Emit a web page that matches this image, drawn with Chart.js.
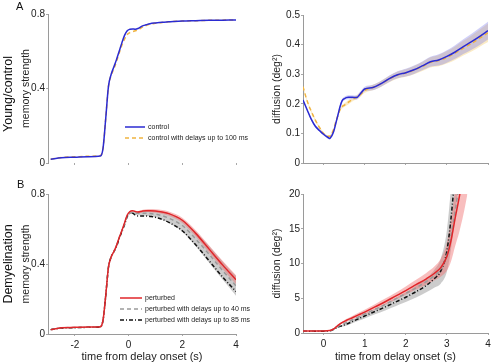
<!DOCTYPE html>
<html>
<head>
<meta charset="utf-8">
<script src="https://cdn.jsdelivr.net/npm/chart.js@4.4.0/dist/chart.umd.min.js"></script>
<style>
body { margin: 0; background: #fff; }
#fig { position: relative; width: 502px; height: 362px; font-family: 'Liberation Sans', Arial, sans-serif; color: #111; }
canvas { position: absolute; }
.lbl { position: absolute; white-space: nowrap; }
.rot { transform: translate(-50%, -50%) rotate(-90deg); }
</style>
</head>
<body>
<div id="fig">
  <canvas id="memA" width="250" height="180" style="left:0;top:0"></canvas>
  <canvas id="difA" width="252" height="180" style="left:250px;top:0"></canvas>
  <canvas id="memB" width="250" height="182" style="left:0;top:180px"></canvas>
  <canvas id="difB" width="252" height="182" style="left:250px;top:180px"></canvas>
  <div class="lbl" style="left:16px;top:0;font-size:11px">A</div>
  <div class="lbl" style="left:17px;top:178px;font-size:11px">B</div>
  <div class="lbl rot" style="left:8px;top:94px;font-size:12.5px">Young/control</div>
  <div class="lbl rot" style="left:8px;top:264px;font-size:12.5px">Demyelination</div>
</div>
<script>
// ---- data ----
// memory strength, time axis (s)
const tMem = [-2.9, -2.5, -2, -1.5, -1.05, -0.95, -0.85, -0.75, -0.65, -0.55, -0.45, -0.35, -0.25, -0.15, -0.05,
              0.05, 0.15, 0.25, 0.35, 0.5, 0.65, 0.8, 1, 1.25, 1.5, 2, 2.5, 3, 3.5, 4];
const controlMem = [0.02, 0.028, 0.031, 0.034, 0.037, 0.08, 0.24, 0.41, 0.475, 0.515, 0.555, 0.6, 0.645, 0.685, 0.71,
                    0.718, 0.72, 0.718, 0.722, 0.735, 0.742, 0.748, 0.752, 0.756, 0.758, 0.762, 0.764, 0.766, 0.767, 0.768];
const controlDelayMem = [0.02, 0.03, 0.033, 0.036, 0.04, 0.08, 0.24, 0.41, 0.47, 0.505, 0.545, 0.59, 0.632, 0.665, 0.69,
                         0.7, 0.705, 0.71, 0.715, 0.728, 0.738, 0.745, 0.75, 0.755, 0.758, 0.762, 0.764, 0.766, 0.767, 0.768];
const perturbedMem = [0.025, 0.036, 0.038, 0.04, 0.042, 0.08, 0.22, 0.38, 0.44, 0.47, 0.505, 0.55, 0.59, 0.635, 0.68,
                      0.7, 0.705, 0.7, 0.697, 0.702, 0.705, 0.705, 0.703, 0.697, 0.688, 0.65, 0.575, 0.485, 0.395, 0.31];
const delay40Mem = [0.025, 0.035, 0.037, 0.039, 0.041, 0.08, 0.22, 0.38, 0.44, 0.47, 0.505, 0.55, 0.59, 0.63, 0.675,
                    0.69, 0.695, 0.69, 0.69, 0.69, 0.69, 0.688, 0.685, 0.676, 0.662, 0.62, 0.543, 0.455, 0.363, 0.275];
const delay85Mem = [0.025, 0.034, 0.036, 0.038, 0.04, 0.08, 0.22, 0.38, 0.44, 0.47, 0.5, 0.545, 0.585, 0.625, 0.67,
                    0.69, 0.69, 0.68, 0.675, 0.675, 0.675, 0.672, 0.667, 0.655, 0.638, 0.59, 0.51, 0.418, 0.326, 0.243];
// half widths of the shaded bands
const perturbedMemBand = [0, 0, 0, 0, 0, 0, 0, 0, 0, 0, 0, 0, 0, 0, 0,
                          0.003, 0.004, 0.005, 0.006, 0.007, 0.008, 0.009, 0.01, 0.011, 0.012, 0.015, 0.018, 0.021, 0.024, 0.026];
const delayMemBand = [0, 0, 0, 0, 0, 0, 0, 0, 0, 0, 0, 0, 0, 0, 0,
                      0.004, 0.006, 0.008, 0.01, 0.012, 0.014, 0.016, 0.018, 0.022, 0.028, 0.035, 0.042, 0.048, 0.052, 0.056];

// diffusion, young/control
const tDifA = [-0.5, -0.4, -0.3, -0.2, -0.1, 0, 0.1, 0.15, 0.2, 0.25, 0.3, 0.35, 0.4, 0.45, 0.5, 0.6, 0.7, 0.8, 0.9, 1,
               1.2, 1.4, 1.6, 1.8, 2, 2.2, 2.4, 2.6, 2.8, 3, 3.2, 3.4, 3.6, 3.8, 4];
const controlDif = [0.213, 0.18, 0.148, 0.124, 0.11, 0.097, 0.087, 0.083, 0.092, 0.108, 0.135, 0.162, 0.19, 0.21, 0.217,
                    0.222, 0.222, 0.221, 0.235, 0.25, 0.255, 0.268, 0.285, 0.298, 0.305, 0.315, 0.328, 0.342, 0.348, 0.36,
                    0.375, 0.393, 0.41, 0.428, 0.447];
const controlDelayDif = [0.258, 0.21, 0.175, 0.145, 0.12, 0.1, 0.09, 0.09, 0.1, 0.115, 0.14, 0.16, 0.18, 0.19, 0.195,
                         0.205, 0.215, 0.222, 0.232, 0.245, 0.255, 0.268, 0.284, 0.297, 0.304, 0.314, 0.326, 0.34, 0.346, 0.357,
                         0.371, 0.388, 0.404, 0.422, 0.44];
const controlDifBand = [0.004, 0.004, 0.004, 0.004, 0.004, 0.004, 0.004, 0.004, 0.004, 0.004, 0.005, 0.005, 0.006, 0.006, 0.006,
                        0.007, 0.007, 0.007, 0.008, 0.008, 0.009, 0.01, 0.011, 0.012, 0.013, 0.014, 0.015, 0.017, 0.019, 0.021,
                        0.023, 0.025, 0.027, 0.029, 0.03];
const controlDelayDifBand = [0.004, 0.004, 0.004, 0.004, 0.004, 0.004, 0.004, 0.004, 0.004, 0.004, 0.005, 0.005, 0.006, 0.006, 0.006,
                             0.007, 0.007, 0.007, 0.008, 0.008, 0.009, 0.01, 0.011, 0.012, 0.013, 0.014, 0.015, 0.017, 0.019, 0.021,
                             0.023, 0.025, 0.027, 0.029, 0.031];

// diffusion, demyelination
const tDifB = [-0.5, -0.25, 0, 0.15, 0.25, 0.35, 0.45, 0.55, 0.7, 0.85, 1, 1.25, 1.5, 1.75, 2, 2.25, 2.5, 2.7, 2.85, 3,
               3.1, 3.2, 3.3, 3.4, 3.5];
const perturbedDif = [0.3, 0.3, 0.3, 0.35, 0.6, 1.1, 1.5, 1.8, 2.2, 2.6, 3.0, 3.75, 4.5, 5.3, 6.1, 6.95, 7.8, 8.6, 9.4, 11.0,
                      13.3, 16.5, 19.5, 23, 27];
const delay40Dif = [0.3, 0.3, 0.3, 0.35, 0.58, 0.95, 1.25, 1.5, 1.9, 2.3, 2.75, 3.4, 4.1, 4.9, 5.7, 6.5, 7.4, 8.3, 9.2, 11.2,
                    14, 17.5, 21.5, 26, 31];
const delay85Dif = [0.25, 0.25, 0.25, 0.3, 0.55, 0.85, 1.05, 1.25, 1.65, 2.05, 2.45, 3.1, 3.75, 4.45, 5.15, 5.95, 6.85, 7.85, 8.9, 11.8,
                    16.5, 23, 30, 38, 46];
const perturbedDifBand = [0, 0, 0, 0, 0.05, 0.1, 0.15, 0.2, 0.25, 0.3, 0.35, 0.4, 0.45, 0.5, 0.6, 0.7, 0.85, 1.0, 1.3, 2.0,
                          3.0, 4.0, 5.0, 6.0, 7.0];
const delayDifBand = [0, 0, 0, 0, 0.05, 0.1, 0.15, 0.2, 0.25, 0.3, 0.35, 0.4, 0.5, 0.6, 0.7, 0.85, 1.0, 1.3, 1.8, 3.0,
                      4.5, 6, 8, 10, 12];

// tick labels
const memTicksX = [-2, 0, 2, 4];
const memTicksY = [0, 0.4, 0.8];
const difTicksX = [0, 1, 2, 3, 4];
const difTicksYA = [0, 0.1, 0.2, 0.3, 0.4, 0.5];
const difTicksYB = [0, 5, 10, 15, 20];

// ---- drawing ----
Chart.defaults.font.family = "'Liberation Sans', Arial, sans-serif";
Chart.defaults.color = '#222';

const innerLegend = {
    id: 'innerLegend',
    afterDraw(chart, args, opts) {
        if (!opts || !opts.items) return;
        const ctx = chart.ctx;
        ctx.save();
        ctx.font = opts.font;
        ctx.textBaseline = 'middle';
        opts.items.forEach((idx, i) => {
            const ds = chart.data.datasets[idx];
            const y = opts.y + i * opts.step;
            ctx.strokeStyle = ds.borderColor;
            ctx.lineWidth = ds.borderWidth;
            ctx.setLineDash(ds.borderDash || []);
            ctx.beginPath();
            ctx.moveTo(opts.x, y);
            ctx.lineTo(opts.x + opts.len, y);
            ctx.stroke();
            ctx.setLineDash([]);
            ctx.fillStyle = '#222';
            ctx.fillText(ds.label, opts.x + opts.len + 3, y);
        });
        ctx.restore();
    }
};
Chart.register(innerLegend);

const pts = (xs, ys) => xs.map((x, i) => ({ x: x, y: ys[i] }));

function line(label, xs, ys, color, dash, width) {
    return {
        label: label, data: pts(xs, ys), borderColor: color, borderWidth: width || 1.5,
        borderDash: dash || [], fill: false, pointRadius: 0, cubicInterpolationMode: 'monotone'
    };
}

function band(xs, ys, half, color) {
    return [
        { data: pts(xs, ys.map((v, i) => v + half[i])), borderWidth: 0, pointRadius: 0, fill: false, cubicInterpolationMode: 'monotone' },
        { data: pts(xs, ys.map((v, i) => v - half[i])), borderWidth: 0, pointRadius: 0, fill: '-1', backgroundColor: color, cubicInterpolationMode: 'monotone' }
    ];
}

function panel(id, datasets, o) {
    const axisColor = '#9a9a9a';
    new Chart(document.getElementById(id), {
        type: 'line',
        data: { datasets: datasets },
        options: {
            responsive: false,
            animation: false,
            devicePixelRatio: 1,
            layout: { padding: { left: o.padL, right: o.padR, top: o.padT, bottom: 0 } },
            plugins: { legend: { display: false }, tooltip: { enabled: false }, innerLegend: o.legend || {} },
            scales: {
                x: {
                    type: 'linear', min: o.xMin, max: o.xMax,
                    border: { display: o.xLine, color: axisColor },
                    grid: { drawOnChartArea: false, tickLength: 2, color: '#a8a8a8' },
                    ticks: { display: o.xLabels, padding: 3, font: { size: 10 } },
                    title: { display: o.xLabels, text: 'time from delay onset (s)', padding: 0, font: { size: 11, lineHeight: 1 } },
                    afterBuildTicks: s => { s.ticks = o.xTicks.map(v => ({ value: v })); },
                    afterFit: s => { s.height = o.xH; s.paddingLeft = 0; s.paddingRight = 0; }
                },
                y: {
                    type: 'linear', min: o.yMin, max: o.yMax,
                    border: { display: true, color: axisColor },
                    grid: { drawOnChartArea: false, tickLength: 2, color: '#a8a8a8' },
                    ticks: { padding: 1, font: { size: 10 } },
                    title: { display: true, text: o.yTitle, padding: 0, font: { size: 10.5 } },
                    afterBuildTicks: s => { s.ticks = o.yTicks.map(v => ({ value: v })); },
                    afterFit: s => { s.width = o.yW; s.paddingTop = 0; s.paddingBottom = 0; }
                }
            }
        }
    });
}

const blue = '#2b2bd2', yellow = '#f0b440', red = '#e0262a', grey = '#9a9a9a', black = '#111111';

panel('memA', [
    line('control', tMem, controlMem, blue),
    line('control with delays up to 100 ms', tMem, controlDelayMem, yellow, [4, 3])
], {
    padL: 20, padR: 14, padT: 14, yW: 28, xH: 17,
    xMin: -3, xMax: 4, yMin: 0, yMax: 0.8, xTicks: memTicksX, yTicks: memTicksY,
    xLine: false, xLabels: false, yTitle: 'memory strength',
    legend: { items: [0, 1], x: 125, y: 127, step: 11, len: 20, font: "7px 'Liberation Sans', Arial" }
});

panel('difA', [
    line('control', tDifA, controlDif, blue),
    line('control with delays up to 100 ms', tDifA, controlDelayDif, yellow, [4, 3]),
    ...band(tDifA, controlDif, controlDifBand, 'rgba(120,120,235,0.35)'),
    ...band(tDifA, controlDelayDif, controlDelayDifBand, 'rgba(245,205,110,0.4)')
], {
    padL: 21, padR: 14, padT: 15, yW: 32, xH: 17,
    xMin: -0.5, xMax: 4, yMin: 0, yMax: 0.5, xTicks: difTicksX, yTicks: difTicksYA,
    xLine: true, xLabels: false, yTitle: 'diffusion (deg²)'
});

panel('memB', [
    line('perturbed', tMem, perturbedMem, red),
    line('perturbed with delays up to 40 ms', tMem, delay40Mem, grey, [4, 3]),
    line('perturbed with delays up to 85 ms', tMem, delay85Mem, black, [4, 2, 1, 2]),
    ...band(tMem, perturbedMem, perturbedMemBand, 'rgba(240,110,110,0.45)'),
    ...band(tMem, delay40Mem, delayMemBand, 'rgba(110,110,110,0.35)')
], {
    padL: 20, padR: 14, padT: 14, yW: 28, xH: 28,
    xMin: -3, xMax: 4, yMin: 0, yMax: 0.8, xTicks: memTicksX, yTicks: memTicksY,
    xLine: true, xLabels: true, yTitle: 'memory strength',
    legend: { items: [0, 1, 2], x: 120, y: 118, step: 11, len: 22, font: "7px 'Liberation Sans', Arial" }
});

panel('difB', [
    line('perturbed', tDifB, perturbedDif, red),
    line('perturbed with delays up to 40 ms', tDifB, delay40Dif, grey, [4, 3]),
    line('perturbed with delays up to 85 ms', tDifB, delay85Dif, black, [4, 2, 1, 2]),
    ...band(tDifB, perturbedDif, perturbedDifBand, 'rgba(240,110,110,0.45)'),
    ...band(tDifB, delay85Dif, delayDifBand, 'rgba(110,110,110,0.35)')
], {
    padL: 21, padR: 14, padT: 14, yW: 32, xH: 29,
    xMin: -0.5, xMax: 4, yMin: 0, yMax: 20, xTicks: difTicksX, yTicks: difTicksYB,
    xLine: true, xLabels: true, yTitle: 'diffusion (deg²)'
});
</script>
</body>
</html>
